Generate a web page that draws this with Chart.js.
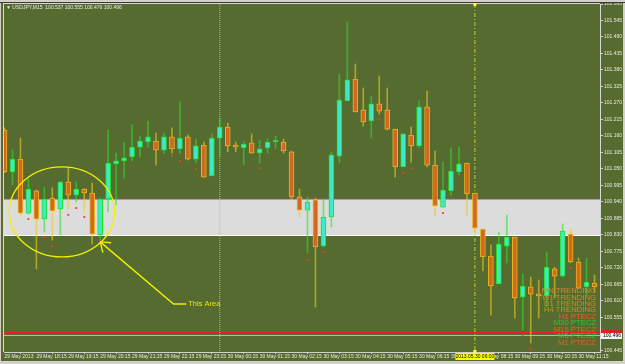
<!DOCTYPE html>
<html>
<head>
<meta charset="utf-8">
<script src="https://cdn.jsdelivr.net/npm/chart.js@4.4.1/dist/chart.umd.min.js"></script>
<style>
html,body{margin:0;padding:0;background:#556b2f;overflow:hidden;}
#wrap{width:625px;height:364px;}
canvas{display:block;}
</style>
</head>
<body>
<div id="wrap"><canvas id="chart" width="625" height="364"></canvas></div>
<script>
// ---------- DATA (USDJPY, M15) ----------
const barTimes = [
 "29 May 17:15","29 May 17:30","29 May 17:45","29 May 18:00","29 May 18:15","29 May 18:30","29 May 18:45","29 May 19:00",
 "29 May 19:15","29 May 19:30","29 May 19:45","29 May 20:00","29 May 20:15","29 May 20:30","29 May 20:45","29 May 21:00",
 "29 May 21:15","29 May 21:30","29 May 21:45","29 May 22:00","29 May 22:15","29 May 22:30","29 May 22:45","29 May 23:00",
 "29 May 23:15","29 May 23:30","29 May 23:45",
 "30 May 00:00","30 May 00:15","30 May 00:30","30 May 00:45","30 May 01:00","30 May 01:15","30 May 01:30","30 May 01:45",
 "30 May 02:00","30 May 02:15","30 May 02:30","30 May 02:45","30 May 03:00","30 May 03:15","30 May 03:30","30 May 03:45",
 "30 May 04:00","30 May 04:15","30 May 04:30","30 May 04:45","30 May 05:00","30 May 05:15","30 May 05:30","30 May 05:45",
 "30 May 06:00","30 May 06:15","30 May 06:30","30 May 06:45","30 May 07:00","30 May 07:15","30 May 07:30","30 May 07:45",
 "30 May 08:00","30 May 08:15","30 May 08:30","30 May 08:45","30 May 09:00","30 May 09:15","30 May 09:30","30 May 09:45",
 "30 May 10:00","30 May 10:15","30 May 10:30","30 May 10:45","30 May 11:00","30 May 11:15","30 May 11:30","30 May 11:45"
];
const firstTickLabel = "29 May 2013";

const opens = [
 101.180,101.040,101.083,100.903,100.977,100.883,100.953,100.917,101.007,100.963,
 100.983,100.970,100.830,100.950,101.067,101.077,101.090,101.123,101.140,101.143,
 101.113,101.157,101.117,101.157,101.083,101.130,101.027,101.153,101.190,101.124,
 101.120,101.137,101.103,101.120,101.140,101.140,101.107,100.957,100.913,100.947,
 100.793,100.890,101.093,101.277,101.350,101.247,101.210,101.267,101.247,101.183,
 101.057,101.163,101.127,101.257,101.063,100.923,100.977,101.040,101.070,100.970,
 100.850,100.760,100.667,100.793,100.823,100.623,100.657,100.633,100.627,100.717,
 100.693,100.833,100.740,100.657,100.670
];
const highs = [
 101.187,101.113,101.153,101.017,100.980,100.990,100.987,101.007,101.053,101.007,
 100.985,101.003,100.953,101.180,101.103,101.137,101.197,101.160,101.210,101.170,
 101.170,101.187,101.273,101.163,101.150,101.140,101.167,101.220,101.203,101.140,
 101.140,101.167,101.147,101.150,101.160,101.150,101.110,100.983,100.957,100.953,
 100.950,101.107,101.367,101.540,101.400,101.320,101.293,101.360,101.320,101.183,
 101.167,101.190,101.277,101.310,101.110,101.073,101.120,101.123,101.070,100.970,
 100.850,100.797,100.840,100.897,100.823,100.700,100.690,100.680,100.773,100.723,
 100.867,100.853,100.753,100.753,100.697
];
const lows = [
 101.037,100.997,100.897,100.900,100.717,100.840,100.813,100.830,100.917,100.940,
 100.910,100.800,100.813,100.907,100.930,101.020,101.077,101.090,101.123,101.063,
 101.103,101.103,101.103,101.080,101.070,101.023,101.027,101.090,101.107,101.107,
 101.063,101.103,101.070,101.103,101.117,101.103,100.947,100.890,100.770,100.590,
 100.790,100.857,101.070,101.277,101.240,101.193,101.153,101.233,101.180,101.023,
 101.057,101.073,101.120,101.057,100.893,100.923,100.963,101.030,100.893,100.840,
 100.710,100.563,100.667,100.737,100.553,100.513,100.470,100.553,100.590,100.620,
 100.690,100.737,100.653,100.630,100.640
];
const closes = [
 101.040,101.083,100.903,100.983,100.883,100.950,100.910,101.007,100.963,100.983,
 100.970,100.833,100.950,101.070,101.077,101.087,101.123,101.143,101.157,101.113,
 101.157,101.117,101.153,101.083,101.127,101.023,101.153,101.190,101.127,101.123,
 101.133,101.103,101.117,101.140,101.141,101.110,100.957,100.913,100.940,100.790,
 100.890,101.097,101.280,101.347,101.240,101.207,101.267,101.243,101.183,101.057,
 101.167,101.127,101.257,101.063,100.927,100.980,101.043,101.067,100.967,100.853,
 100.757,100.660,100.800,100.823,100.620,100.660,100.633,100.627,100.723,100.693,
 100.843,100.740,100.653,100.673,100.657
];
// red indicator dots (bar index, price)
const dotIdx   = [3,5,6,8,9,10,12,21,22,24,32,38,40,47,50,51,55,65,66,71];
const dotPrice = [100.883,100.823,100.793,100.897,100.920,100.890,100.810,101.093,101.077,101.050,
                  101.053,100.747,100.773,101.217,101.037,101.053,100.903,100.497,100.450,100.720];

const yTickValues = [101.600,101.545,101.490,101.435,101.380,101.325,101.270,101.215,101.160,101.105,
                     101.050,100.995,100.940,100.885,100.830,100.775,100.720,100.665,100.610,100.555,
                     100.500,100.445];

const headerText = "\u25BC USDJPY,M15  100.537 100.555 100.476 100.496";
const bandRange = [100.830, 100.950];      // grey rectangle
const askPrice = 100.503, bidPrice = 100.496, bidLabel = "100.496";
const separatorBar = 27;                   // 30 May 00:00
const crossBar = 59, crossLabel = "2013.05.30 06:00";
const ellipseSpec = {cx: 7.2, cy: 100.907, rx: 6.6, ry: 0.150};
const arrowPath = [[12, 100.807], [21.2, 100.600], [22.8, 100.600]];
const arrowText = "This Area";
const statusLines  = ["MN TRENDING","W1 TRENDING","D1 TRENDING","H4 TRENDING","H1 PTECZ","M30 PTECZ","M15 PTECZ","M5 PTECZ","M1 PTECZ"];
const statusColors = ["#d8892a","#d8892a","#d8892a","#d8892a","#e8641e","#3cc03c","#e8641e","#3cc03c","#e8641e"];

// ---------- STYLE ----------
const BG = "#556b2f";
const UP_FILL = "#3fe8c8", UP_EDGE = "#22e022", UP_WICK = "rgba(50,220,50,0.6)";
const DN_FILL = "#d2691e", DN_EDGE = "#e8b422", DN_WICK = "rgba(232,205,40,0.6)";
const TXT = "#e8e8e8";
const SMALL_FONT = "'Liberation Sans',sans-serif";
const SMALL_SIZE = 5;

const isUp = closes.map((c, i) => c >= opens[i]);
const wickData = lows.map((l, i) => ({x: i, y: [l, highs[i]]}));
const bodyData = opens.map((o, i) => ({x: i, y: [o, closes[i]]}));
const dotData  = dotIdx.map((x, k) => ({x, y: dotPrice[k]}));

const overlay = {
  id: 'overlay',
  beforeDraw(chart) {
    const {ctx, width, height} = chart;
    ctx.save();
    ctx.fillStyle = BG;
    ctx.fillRect(0, 0, width, height);
    ctx.restore();
  },
  beforeDatasetsDraw(chart) {
    const {ctx, chartArea: a, scales: {x, y}} = chart;
    ctx.save();
    // grey band
    const yt = Math.round(y.getPixelForValue(bandRange[1]));
    const yb = Math.round(y.getPixelForValue(bandRange[0]));
    ctx.fillStyle = "#dcdcdc";
    ctx.fillRect(a.left, yt, a.right - a.left, yb - yt);
    ctx.fillStyle = "#74604e";
    ctx.fillRect(a.left, yt - 1, a.right - a.left, 1.5);
    ctx.fillStyle = "#ffffff";
    ctx.fillRect(a.left, yb, a.right - a.left, 1);
    // ask / bid lines
    ctx.fillStyle = "#e82020";
    ctx.fillRect(a.left, Math.round(y.getPixelForValue(askPrice)) - 1, a.right - a.left, 1);
    ctx.fillStyle = "#b8b8b0";
    ctx.fillRect(a.left, Math.round(y.getPixelForValue(bidPrice)), a.right - a.left, 1);
    // period separator
    ctx.lineWidth = 1;
    const sx = x.getPixelForValue(separatorBar);
    ctx.strokeStyle = "#b8b8ac";
    ctx.setLineDash([1, 1]);
    ctx.beginPath(); ctx.moveTo(sx, a.top); ctx.lineTo(sx, a.bottom); ctx.stroke();
    // crosshair vertical
    const cx = x.getPixelForValue(crossBar);
    ctx.strokeStyle = "#caca3c";
    ctx.setLineDash([4, 2, 1, 2]);
    ctx.beginPath(); ctx.moveTo(cx, a.top); ctx.lineTo(cx, a.bottom); ctx.stroke();
    ctx.setLineDash([]);
    ctx.restore();
  },
  afterDatasetsDraw(chart) {
    const {ctx, chartArea: a, scales: {x, y}} = chart;
    ctx.save();
    // ellipse
    const ex = x.getPixelForValue(ellipseSpec.cx), ey = y.getPixelForValue(ellipseSpec.cy);
    const erx = x.getPixelForValue(ellipseSpec.cx + ellipseSpec.rx) - ex;
    const ery = y.getPixelForValue(ellipseSpec.cy - ellipseSpec.ry) - ey;
    ctx.strokeStyle = "#f0f000";
    ctx.lineWidth = 1.4;
    ctx.beginPath(); ctx.ellipse(ex, ey, erx, ery, 0, 0, Math.PI * 2); ctx.stroke();
    // arrow
    const pts = arrowPath.map(p => [x.getPixelForValue(p[0]), y.getPixelForValue(p[1])]);
    ctx.beginPath();
    ctx.moveTo(pts[0][0], pts[0][1]);
    for (let k = 1; k < pts.length; k++) ctx.lineTo(pts[k][0], pts[k][1]);
    ctx.stroke();
    const ang = Math.atan2(pts[1][1] - pts[0][1], pts[1][0] - pts[0][0]);
    ctx.beginPath();
    [-0.62, 0.62].forEach(d => {
      ctx.moveTo(pts[0][0], pts[0][1]);
      ctx.lineTo(pts[0][0] + 11 * Math.cos(ang + d), pts[0][1] + 11 * Math.sin(ang + d));
    });
    ctx.stroke();
    ctx.fillStyle = "#e8e800";
    ctx.font = "7.5px 'Liberation Sans', sans-serif";
    ctx.textBaseline = "middle";
    ctx.textAlign = "left";
    const last = pts[pts.length - 1];
    ctx.fillText(arrowText, last[0] + 2, last[1]);
    // status text block
    ctx.font = "7.7px 'Liberation Sans', sans-serif";
    ctx.textAlign = "right";
    statusLines.forEach((t, k) => {
      ctx.fillStyle = statusColors[k];
      ctx.fillText(t, a.right - 4, a.bottom - 61 + k * 6.45);
    });
    ctx.restore();
  },
  afterDraw(chart) {
    const {ctx, chartArea: a, width, height, scales: {x, y}} = chart;
    ctx.save();
    // window chrome
    ctx.fillStyle = "#d4d0c8";
    ctx.fillRect(0, 0, width, 2);
    ctx.fillRect(0, height - 3, width, 3);
    ctx.fillRect(width - 2, 0, 2, height);
    ctx.fillRect(0, 0, 1, height);
    ctx.fillStyle = "#3a3a3a";
    ctx.fillRect(0, 2, width, 1);
    // frame left/top
    ctx.fillStyle = "#d8d8d8";
    ctx.fillRect(a.left - 1, a.top - 1, 1, a.bottom - a.top + 1);
    ctx.fillRect(a.left - 1, a.top - 1, a.right - a.left + 1, 1);
    // header
    ctx.fillStyle = TXT;
    ctx.font = SMALL_SIZE + "px " + SMALL_FONT;
    ctx.textBaseline = "middle";
    ctx.textAlign = "left";
    ctx.fillText(headerText, a.left + 2, a.top + 3.5);
    // crosshair marker + date box
    const cx = x.getPixelForValue(crossBar);
    ctx.fillStyle = "#ffff40";
    ctx.fillRect(cx - 1.5, a.top - 1, 3, 3);
    ctx.fillRect(cx - 1.5, a.bottom - 2, 3, 3);
    ctx.fillStyle = "#ffff00";
    ctx.fillRect(cx - 19.5, a.bottom + 1, 39, 7);
    ctx.fillStyle = "#000000";
    ctx.textAlign = "center";
    ctx.fillText(crossLabel, cx, a.bottom + 4.7);
    // ask / bid price labels on axis
    const ay = Math.round(y.getPixelForValue(askPrice)), by = Math.round(y.getPixelForValue(bidPrice));
    ctx.fillStyle = "#e02020";
    ctx.fillRect(a.right + 1, ay - 3, 21, 3);
    ctx.fillStyle = "#f4f4f4";
    ctx.fillRect(a.right + 1, ay, 21, by - ay + 4);
    ctx.fillStyle = "#000000";
    ctx.textAlign = "left";
    ctx.fillText(bidLabel, a.right + 3, by + 1);
    ctx.restore();
  }
};

new Chart(document.getElementById('chart'), {
  type: 'bar',
  data: {
    datasets: [
      { type: 'scatter', data: dotData, pointStyle: 'rect', pointRadius: 1.3, backgroundColor: '#ff3c14',
        borderWidth: 0, order: 0, clip: 0 },
      { type: 'bar', data: bodyData, barThickness: 5, grouped: false, order: 1, clip: 0,
        backgroundColor: isUp.map(u => u ? UP_FILL : DN_FILL),
        borderColor: isUp.map(u => u ? UP_EDGE : DN_EDGE),
        borderWidth: 1, borderSkipped: false, minBarLength: 2 },
      { type: 'bar', data: wickData, barThickness: 1, grouped: false, order: 2, clip: 0,
        backgroundColor: isUp.map(u => u ? UP_WICK : DN_WICK), borderWidth: 0 }
    ]
  },
  options: {
    responsive: false,
    devicePixelRatio: 1,
    animation: false,
    events: [],
    layout: { padding: { left: 2, top: 4, right: 0, bottom: 0 } },
    plugins: { legend: { display: false }, tooltip: { enabled: false } },
    scales: {
      x: {
        type: 'linear', min: -0.0625, max: 74.6875, offset: false,
        grid: { display: true, drawOnChartArea: false, drawTicks: true, tickLength: 2, color: '#d0d0d0' },
        border: { display: true, color: '#d0d0d0' },
        ticks: {
          autoSkip: false, maxRotation: 0, minRotation: 0, align: 'start', padding: 0,
          color: TXT, font: { family: SMALL_FONT, size: SMALL_SIZE },
          callback: v => (v === 0 ? firstTickLabel : barTimes[v])
        },
        afterBuildTicks: s => { s.ticks = barTimes.map((t, i) => i).filter(i => i % 4 === 0).map(v => ({ value: v })); },
        afterFit: s => { s.height = 12; s.paddingLeft = 0; s.paddingRight = 0; }
      },
      y: {
        type: 'linear', position: 'right', min: 100.44, max: 101.6,
        grid: { display: true, drawOnChartArea: false, drawTicks: true, tickLength: 3, color: '#d0d0d0' },
        border: { display: true, color: '#d8d8d8' },
        ticks: { color: TXT, font: { family: SMALL_FONT, size: SMALL_SIZE }, padding: 1,
                 callback: v => v.toFixed(3) },
        afterBuildTicks: s => { s.ticks = yTickValues.map(v => ({ value: v })); },
        afterFit: s => { s.width = 25; s.paddingTop = 0; s.paddingBottom = 0; }
      }
    }
  },
  plugins: [overlay]
});
</script>
</body>
</html>
